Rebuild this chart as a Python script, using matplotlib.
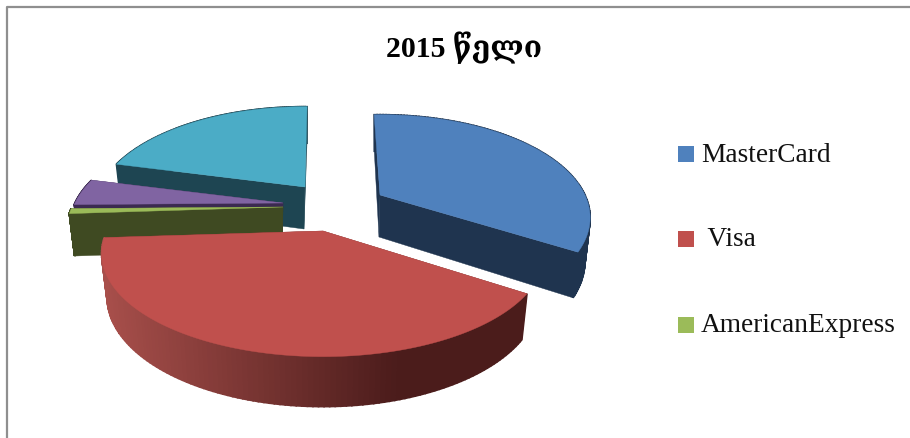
import numpy as np
import matplotlib
matplotlib.use("Agg")
import matplotlib.pyplot as plt
from matplotlib.patches import Rectangle
from matplotlib.colors import to_rgb

# --- data (percent) ---
labels = ["MasterCard", " Visa", "AmericanExpress", "Other 1", "Other 2"]
shares = [34.2, 40.3, 0.8, 4.2, 20.5]
title = "2015 წელი"
legend_labels = labels[:3]

# --- colours ---
top_colors = ["#4f81bd", "#c0504d", "#9bbb59", "#8064a2", "#4bacc6"]
side_colors = ["#1f344f", "#7a3230", "#3f4a22", "#3b2a50", "#1e4552"]
rim_left = ["#1f344f", "#a84f4b", "#3f4a22", "#3b2a50", "#1e4552"]
rim_right = ["#1f344f", "#4b1c1b", "#3f4a22", "#3b2a50", "#1e4552"]

# --- layout, in pixels of the 910x438 picture ---
apex_x = [380, 323, 283, 283, 305]
apex_y = [195, 231, 207, 203, 187]
radius_x = [205, 216, 211, 208, 205]
radius_y = 98
persp = 0.22
depth = 42
bottom_shrink = 0.975
start_angle = -2.0
draw_order = [4, 3, 2, 0, 1]
# exploded slices look slightly skewed in the 3D view
start_nudge = [0, 3, 0, 0, 0]
end_nudge = [0, 0, 0, 0, 2.7]


def project(i, phi, bottom=False):
    # phi in degrees, clockwise from 12 o'clock, with simple perspective
    phi = np.radians(phi)
    X, Z = np.sin(phi), np.cos(phi)
    s = 1 / (1 + persp * Z)
    x = radius_x[i] * X * s
    y = -radius_y * Z * s
    if bottom:
        x = x * bottom_shrink
        y = y + depth * s ** 0.7
    return apex_x[i] + x, apex_y[i] + y


def apex(i, bottom=False):
    if bottom:
        return apex_x[i] - 1, apex_y[i] + depth
    return apex_x[i], apex_y[i]


fig = plt.figure(figsize=(9.10, 4.38), dpi=100)
ax = fig.add_axes([0, 0, 1, 1])
ax.set_xlim(0, 910)
ax.set_ylim(438, 0)
ax.axis("off")

# chart frame, only left and top survive the crop
ax.plot([7, 7, 910], [438, 6.5, 6.5], color="#8f8f8f", lw=1.6, zorder=0)

# slice angles from the values
fractions = np.array(shares) / np.sum(shares)
ends = start_angle + np.cumsum(fractions) * 360
starts = np.concatenate([[start_angle], ends[:-1]])

z = 1
for i in draw_order:
    a0, a1 = starts[i] + start_nudge[i], ends[i] + end_nudge[i]
    phis = np.linspace(a0, a1, 121)

    # radial faces
    for a in (a0, a1):
        tx, ty = project(i, a)
        bx, by = project(i, a, bottom=True)
        px, py = apex(i)
        qx, qy = apex(i, bottom=True)
        ax.fill([px, tx, bx, qx], [py, ty, by, qy], color=side_colors[i], lw=0.3, zorder=z)
    z += 1

    # outer rim as strips, shaded left to right
    tx, ty = project(i, phis)
    bx, by = project(i, phis, bottom=True)
    c_left, c_right = np.array(to_rgb(rim_left[i])), np.array(to_rgb(rim_right[i]))
    for k in range(len(phis) - 1):
        t = np.clip((tx[k] - 102) / 298, 0, 1)
        col = c_left + (c_right - c_left) * t
        ax.fill([tx[k], tx[k + 1], bx[k + 1], bx[k]], [ty[k], ty[k + 1], by[k + 1], by[k]],
                facecolor=col, edgecolor=col, lw=1.2, zorder=z)
    z += 1

    # top face
    px, py = apex(i)
    ax.fill(np.r_[px, tx], np.r_[py, ty], color=top_colors[i], lw=0.3, zorder=z)
    z += 1

serif = ["Liberation Serif", "DejaVu Serif", "DejaVu Sans"]
ax.text(464, 57, title, family=serif, fontsize=21.5, fontweight="bold",
        ha="center", va="baseline", color="black", zorder=z)

legend_y = [154, 239, 325]
for i, name in enumerate(legend_labels):
    ax.add_patch(Rectangle((678, legend_y[i] - 8), 16, 16, facecolor=top_colors[i], edgecolor="none", zorder=z))
    ax.text(701, legend_y[i] + 7.5, name, family=serif, fontsize=19.7, ha="left", va="baseline",
            color="#111111", zorder=z)

fig.savefig("out.png", dpi=100)
